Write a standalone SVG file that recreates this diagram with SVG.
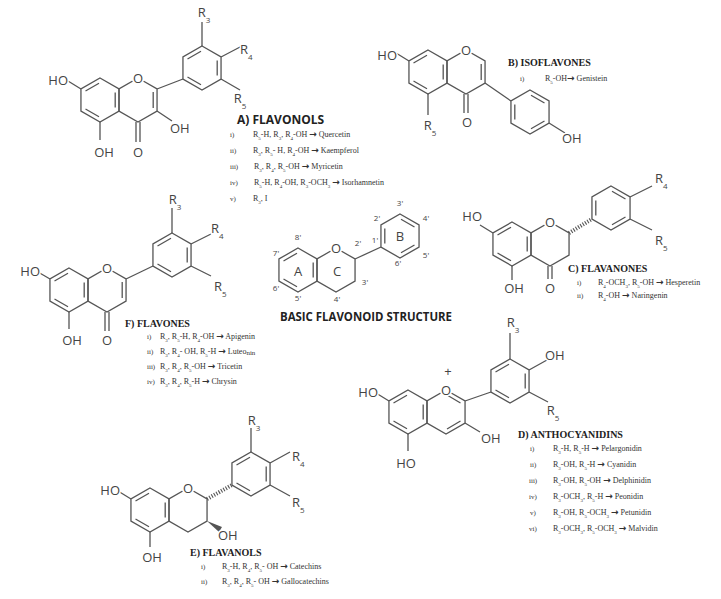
<svg xmlns="http://www.w3.org/2000/svg" xmlns:xlink="http://www.w3.org/1999/xlink" width="721" height="599" viewBox="0 0 721 599">
<style>
.b{fill:none;stroke:#555;stroke-width:1.3}
.h{fill:none;stroke:#555;stroke-width:4;stroke-dasharray:1.1 1.6}
.a{font-family:"Open Sans","Liberation Sans",sans-serif;font-size:13px;fill:#444;stroke:#fff;stroke-width:3;paint-order:stroke;text-anchor:middle}
.e{text-anchor:end}
.st{text-anchor:start}
.n{font-family:"Open Sans","Liberation Sans",sans-serif;font-size:8px;fill:#444;text-anchor:middle}
.t{font-family:"Open Sans","Liberation Sans",sans-serif;font-size:12px;font-weight:bold;fill:#222}
.ts{font-family:"Liberation Serif",serif;font-size:10px;font-weight:bold;fill:#222}
.l{font-family:"Liberation Serif",serif;font-size:8px;fill:#333}
.rl{font-family:"Liberation Serif",serif;font-size:7px;fill:#333}
.ar{font-family:"DejaVu Sans",sans-serif;font-size:9px;font-weight:bold}
.w{fill:#fff}
</style>
<defs>
<path id="hex" class="b" d="M0,-22 L19.05,-11 L19.05,11 L0,22 L-19.05,11 L-19.05,-11Z"/>
<g id="aro1"><use xlink:href="#hex"/><path class="b" d="M-14.5,-9 L-1,-16.8 M15.2,-7.5 L15.2,7.5 M-1,16.8 L-14.5,9"/></g>
<g id="aro2"><use xlink:href="#hex"/><path class="b" d="M1,-16.8 L14.5,-9 M14.5,9 L1,16.8 M-15.2,7.5 L-15.2,-7.5"/></g>
</defs>

<g id="flavonol">
<use xlink:href="#aro1" x="100" y="100"/><use xlink:href="#hex" x="138" y="100"/><use xlink:href="#aro1" x="202" y="68"/>
<path class="b" d="M153.2,92 L153.2,108 M136,122 L136,142 M140,122 L140,142 M100,122 L100,140 M81,89 L68,81 M157,111 L172,121 M157,89 L183,79 M202,46 L202,22 M221,57 L242,46 M221,79 L240,90"/>
<circle class="w" cx="138" cy="78" r="6.5"/>
<text class="a" x="138" y="83">O</text><text class="a" x="138" y="157">O</text>
<text class="a" x="104" y="157">OH</text><text class="a e" x="68" y="85">HO</text><text class="a st" x="170" y="133">OH</text>
<text class="a" x="204" y="17">R<tspan font-size="8" baseline-shift="sub">3</tspan></text>
<text class="a st" x="240" y="54">R<tspan font-size="8" baseline-shift="sub">4</tspan></text>
<text class="a" x="240" y="103">R<tspan font-size="8" baseline-shift="sub">5</tspan></text>
<text class="t" x="237" y="124">A) FLAVONOLS</text>
<g class="l">
<text x="230" y="137" class="rl">i)</text><text x="253" y="137">R<tspan font-size="5" baseline-shift="sub">5</tspan>-H, R<tspan font-size="5" baseline-shift="sub">3</tspan>, R<tspan font-size="5" baseline-shift="sub">4</tspan>-OH <tspan class="ar">→</tspan> Quercetin</text>
<text x="230" y="153" class="rl">ii)</text><text x="253" y="153">R<tspan font-size="5" baseline-shift="sub">3</tspan>, R<tspan font-size="5" baseline-shift="sub">5</tspan>- H, R<tspan font-size="5" baseline-shift="sub">4</tspan>-OH <tspan class="ar">→</tspan> Kaempferol</text>
<text x="230" y="169" class="rl">iii)</text><text x="254" y="169">R<tspan font-size="5" baseline-shift="sub">3</tspan>, R<tspan font-size="5" baseline-shift="sub">4</tspan>, R<tspan font-size="5" baseline-shift="sub">5</tspan>-OH <tspan class="ar">→</tspan> Myricetin</text>
<text x="230" y="185" class="rl">iv)</text><text x="254" y="185">R<tspan font-size="5" baseline-shift="sub">5</tspan>-H, R<tspan font-size="5" baseline-shift="sub">4</tspan>-OH, R<tspan font-size="5" baseline-shift="sub">3</tspan>-OCH<tspan font-size="5" baseline-shift="sub">3</tspan> <tspan class="ar">→</tspan> Isorhamnetin</text>
<text x="230" y="201" class="rl">v)</text><text x="253" y="201">R<tspan font-size="5" baseline-shift="sub">3</tspan>, I</text>
</g>
</g>

<g id="isoflavone">
<use xlink:href="#aro1" x="428" y="72"/><use xlink:href="#hex" x="466" y="72"/><use xlink:href="#aro2" x="530" y="112"/>
<path class="b" d="M481.2,64 L481.2,80 M464,94 L464,113 M468,94 L468,113 M428,94 L428,115 M409,61 L396,53 M485,83 L511,101 M549,123 L565,133"/>
<circle class="w" cx="466" cy="50" r="6.5"/>
<text class="a" x="466" y="55">O</text><text class="a" x="467" y="127">O</text>
<text class="a e" x="397" y="60">HO</text><text class="a st" x="562" y="143">OH</text>
<text class="a" x="430" y="130">R<tspan font-size="8" baseline-shift="sub">5</tspan></text>
<text class="ts" x="508" y="66">B) ISOFLAVONES</text>
<text class="rl" x="520" y="81">i)</text><text class="l" x="545" y="81">R<tspan font-size="5" baseline-shift="sub">5</tspan>-OH<tspan class="ar">→</tspan> Genistein</text>
</g>

<g id="basic">
<use xlink:href="#aro1" x="298" y="270"/><use xlink:href="#hex" x="336" y="270"/><use xlink:href="#aro2" x="400" y="236"/>
<path class="b" d="M355,259 L381,247"/>
<circle class="w" cx="336" cy="248" r="6.5"/>
<text class="a" x="336" y="253">O</text>
<text class="a" x="298" y="276">A</text><text class="a" x="337" y="276">C</text><text class="a" x="400" y="241">B</text>
<g class="n">
<text x="298" y="240">8'</text><text x="276" y="256">7'</text><text x="276" y="291">6'</text><text x="298" y="301">5'</text>
<text x="337" y="302">4'</text><text x="365" y="285">3'</text><text x="358" y="246">2'</text><text x="375" y="243">1'</text>
<text x="377" y="221">2'</text><text x="400" y="206">3'</text><text x="426" y="221">4'</text><text x="426" y="258">5'</text><text x="398" y="266">6'</text>
</g>
<text class="t" x="280" y="321" textLength="172" lengthAdjust="spacingAndGlyphs">BASIC FLAVONOID STRUCTURE</text>
</g>

<g id="flavanone">
<use xlink:href="#aro1" x="512" y="244"/><use xlink:href="#hex" x="550" y="244"/><use xlink:href="#aro2" x="611" y="208"/>
<path class="b" d="M548,266 L548,279 M552,266 L552,279 M512,266 L512,280 M493,233 L480,225 M630,197 L652,186 M630,219 L652,230"/>
<path class="h" d="M569,233 L592,219"/>
<circle class="w" cx="550" cy="222" r="6.5"/>
<text class="a" x="550" y="227">O</text><text class="a" x="550" y="293">O</text>
<text class="a e" x="482" y="221">HO</text><text class="a" x="514" y="293">OH</text>
<text class="a st" x="655" y="183">R<tspan font-size="8" baseline-shift="sub">4</tspan></text>
<text class="a st" x="655" y="245">R<tspan font-size="8" baseline-shift="sub">5</tspan></text>
<text class="ts" x="568" y="272">C) FLAVANONES</text>
<text class="rl" x="577" y="285">i)</text><text class="l" x="598" y="285">R<tspan font-size="5" baseline-shift="sub">4</tspan>-OCH<tspan font-size="5" baseline-shift="sub">3</tspan>, R<tspan font-size="5" baseline-shift="sub">5</tspan>-OH <tspan class="ar">→</tspan> Hesperetin</text>
<text class="rl" x="577" y="298">ii)</text><text class="l" x="598" y="298">R<tspan font-size="5" baseline-shift="sub">4</tspan>-OH <tspan class="ar">→</tspan> Naringenin</text>
</g>

<g id="flavone">
<use xlink:href="#aro1" x="69" y="290"/><use xlink:href="#hex" x="107" y="290"/><use xlink:href="#aro1" x="172" y="255"/>
<path class="b" d="M122.2,282 L122.2,298 M105,312 L105,331 M109,312 L109,331 M69,312 L69,329 M50,279 L38,272 M126,279 L153,266 M172,233 L172,208 M191,244 L211,234 M191,266 L211,276"/>
<circle class="w" cx="107" cy="268" r="6.5"/>
<text class="a" x="107" y="273">O</text><text class="a" x="107" y="345">O</text>
<text class="a e" x="40" y="276">HO</text><text class="a" x="72" y="345">OH</text>
<text class="a" x="175" y="204">R<tspan font-size="8" baseline-shift="sub">3</tspan></text>
<text class="a st" x="211" y="233">R<tspan font-size="8" baseline-shift="sub">4</tspan></text>
<text class="a st" x="214" y="291">R<tspan font-size="8" baseline-shift="sub">5</tspan></text>
<text class="ts" x="125" y="327">F)  FLAVONES</text>
<g class="l">
<text x="147" y="339" class="rl">i)</text><text x="160" y="339">R<tspan font-size="5" baseline-shift="sub">3</tspan>, R<tspan font-size="5" baseline-shift="sub">5</tspan>-H, R<tspan font-size="5" baseline-shift="sub">4</tspan>-OH <tspan class="ar">→</tspan> Apigenin</text>
<text x="147" y="354" class="rl">ii)</text><text x="160" y="354">R<tspan font-size="5" baseline-shift="sub">3</tspan>, R<tspan font-size="5" baseline-shift="sub">4</tspan>- OH, R<tspan font-size="5" baseline-shift="sub">5</tspan>-H <tspan class="ar">→</tspan> Luteo<tspan font-size="7" dy="1">nin</tspan></text>
<text x="147" y="369" class="rl">iii)</text><text x="160" y="369">R<tspan font-size="5" baseline-shift="sub">3</tspan>, R<tspan font-size="5" baseline-shift="sub">4</tspan>, R<tspan font-size="5" baseline-shift="sub">5</tspan>-OH <tspan class="ar">→</tspan> Tricetin</text>
<text x="147" y="384" class="rl">iv)</text><text x="160" y="384">R<tspan font-size="5" baseline-shift="sub">3</tspan>, R<tspan font-size="5" baseline-shift="sub">4</tspan>, R<tspan font-size="5" baseline-shift="sub">5</tspan>-H <tspan class="ar">→</tspan> Chrysin</text>
</g>
</g>

<g id="anthocyanidin">
<use xlink:href="#aro1" x="408" y="412"/><use xlink:href="#hex" x="446" y="412"/><use xlink:href="#aro1" x="510" y="381"/>
<path class="b" d="M447,395 L460.5,403 M460.5,421 L447,429 M408,434 L408,451 M389,401 L376,393 M465,401 L491,392 M465,423 L480,432 M510,359 L510,333 M529,370 L547,360 M529,392 L548,402"/>
<circle class="w" cx="446" cy="390" r="6.5"/>
<text class="a" x="446" y="395">O</text><text class="a" x="448" y="376" font-size="11" stroke-width="0">+</text>
<text class="a e" x="378" y="397">HO</text><text class="a" x="406" y="468">HO</text><text class="a st" x="481" y="443">OH</text>
<text class="a" x="513" y="327">R<tspan font-size="8" baseline-shift="sub">3</tspan></text>
<text class="a st" x="545" y="360">OH</text>
<text class="a" x="553" y="415">R<tspan font-size="8" baseline-shift="sub">5</tspan></text>
<text class="ts" x="518" y="438">D) ANTHOCYANIDINS</text>
<g class="l">
<text x="530" y="451" class="rl">i)</text><text x="553" y="451">R<tspan font-size="5" baseline-shift="sub">3</tspan>-H, R<tspan font-size="5" baseline-shift="sub">5</tspan>-H <tspan class="ar">→</tspan> Pelargonidin</text>
<text x="530" y="467" class="rl">ii)</text><text x="553" y="467">R<tspan font-size="5" baseline-shift="sub">3</tspan>-OH, R<tspan font-size="5" baseline-shift="sub">5</tspan>-H <tspan class="ar">→</tspan> Cyanidin</text>
<text x="529" y="483" class="rl">iii)</text><text x="553" y="483">R<tspan font-size="5" baseline-shift="sub">3</tspan>-OH, R<tspan font-size="5" baseline-shift="sub">5</tspan>-OH <tspan class="ar">→</tspan> Delphinidin</text>
<text x="529" y="499" class="rl">iv)</text><text x="553" y="499">R<tspan font-size="5" baseline-shift="sub">3</tspan>-OCH<tspan font-size="5" baseline-shift="sub">3</tspan>, R<tspan font-size="5" baseline-shift="sub">5</tspan>-H <tspan class="ar">→</tspan> Peonidin</text>
<text x="530" y="515" class="rl">v)</text><text x="553" y="515">R<tspan font-size="5" baseline-shift="sub">3</tspan>-OH, R<tspan font-size="5" baseline-shift="sub">5</tspan>-OCH<tspan font-size="5" baseline-shift="sub">3</tspan> <tspan class="ar">→</tspan> Petunidin</text>
<text x="529" y="531" class="rl">vi)</text><text x="553" y="531">R<tspan font-size="5" baseline-shift="sub">3</tspan>-OCH<tspan font-size="5" baseline-shift="sub">3</tspan>, R<tspan font-size="5" baseline-shift="sub">5</tspan>-OCH<tspan font-size="5" baseline-shift="sub">3</tspan> <tspan class="ar">→</tspan> Malvidin</text>
</g>
</g>

<g id="flavanol">
<use xlink:href="#aro1" x="150" y="510"/><use xlink:href="#hex" x="188" y="510"/><use xlink:href="#aro1" x="251" y="474"/>
<path class="b" d="M150,532 L150,547 M131,499 L118,491 M251,452 L251,428 M270,463 L290,452 M270,485 L290,496"/>
<path class="h" d="M207,499 L232,485"/>
<path fill="#555" d="M207,521 L222,527 L219,532Z"/>
<circle class="w" cx="188" cy="488" r="6.5"/>
<text class="a" x="188" y="493">O</text>
<text class="a e" x="120" y="495">HO</text><text class="a" x="152" y="562">OH</text><text class="a st" x="218" y="540">OH</text>
<text class="a" x="254" y="425">R<tspan font-size="8" baseline-shift="sub">3</tspan></text>
<text class="a st" x="292" y="461">R<tspan font-size="8" baseline-shift="sub">4</tspan></text>
<text class="a st" x="292" y="507">R<tspan font-size="8" baseline-shift="sub">5</tspan></text>
<text class="ts" x="190" y="556">E) FLAVANOLS</text>
<text class="rl" x="201" y="569">i)</text><text class="l" x="222" y="569">R<tspan font-size="5" baseline-shift="sub">3</tspan>-H, R<tspan font-size="5" baseline-shift="sub">4</tspan>, R<tspan font-size="5" baseline-shift="sub">5</tspan>- OH <tspan class="ar">→</tspan> Catechins</text>
<text class="rl" x="201" y="584">ii)</text><text class="l" x="222" y="584">R<tspan font-size="5" baseline-shift="sub">3</tspan>, R<tspan font-size="5" baseline-shift="sub">4</tspan>, R<tspan font-size="5" baseline-shift="sub">5</tspan>- OH <tspan class="ar">→</tspan> Gallocatechins</text>
</g>
</svg>
